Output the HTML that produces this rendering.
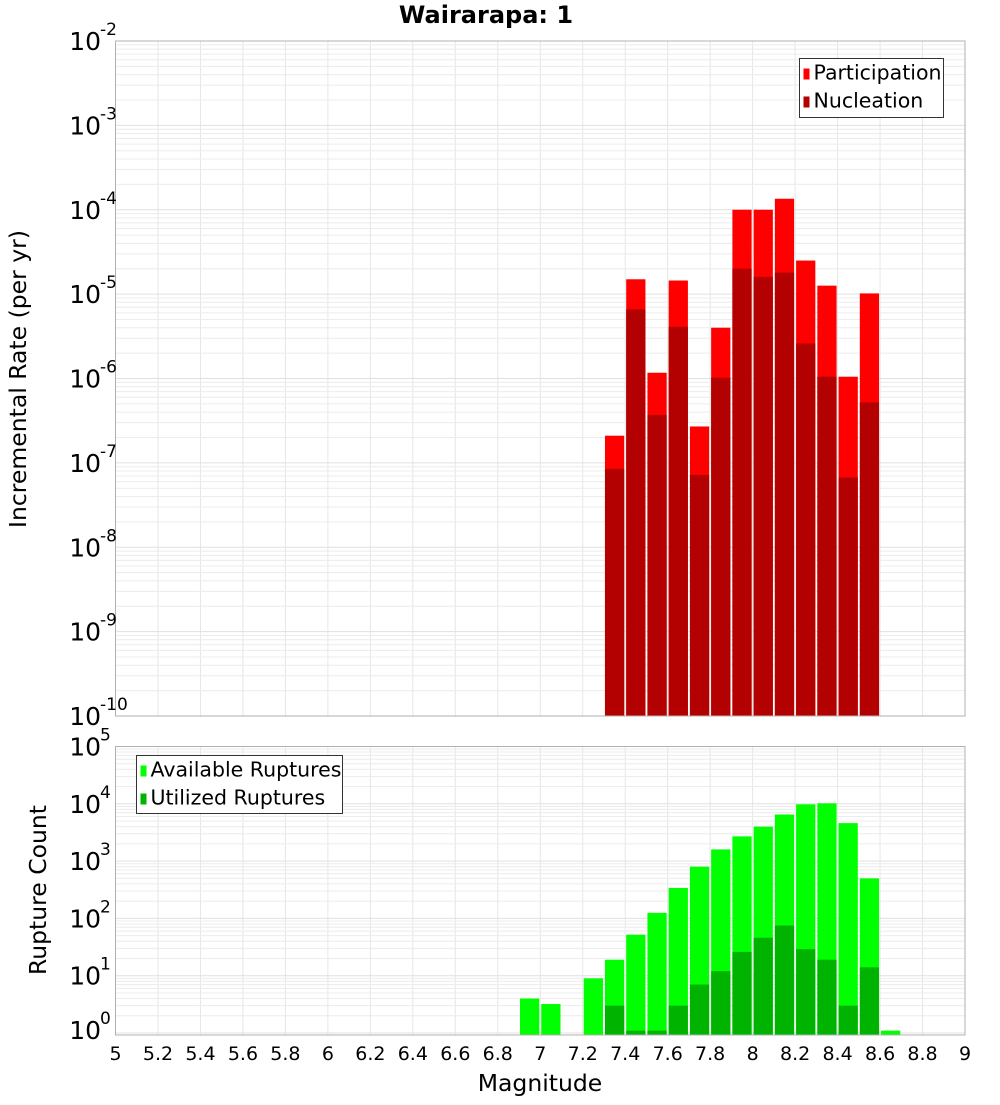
<!DOCTYPE html>
<html><head><meta charset="utf-8"><style>
body{margin:0;background:#fff;}
svg text{font-family:"DejaVu Sans","Liberation Sans",sans-serif;}
</style></head><body>
<svg id="c" width="1000" height="1100" xmlns="http://www.w3.org/2000/svg"></svg>
<script>
const mags=[7.35,7.45,7.55,7.65,7.75,7.85,7.95,8.05,8.15,8.25,8.35,8.45,8.55];
const participation=[2.1e-7,1.5e-5,1.17e-6,1.45e-5,2.7e-7,4e-6,1e-4,1e-4,1.35e-4,2.5e-5,1.26e-5,1.05e-6,1.02e-5];
const nucleation=[8.5e-8,6.6e-6,3.7e-7,4.1e-6,7.2e-8,1.02e-6,2.0e-5,1.6e-5,1.8e-5,2.6e-6,1.05e-6,6.7e-8,5.2e-7];
const countMags=[6.95,7.05,7.25,7.35,7.45,7.55,7.65,7.75,7.85,7.95,8.05,8.15,8.25,8.35,8.45,8.55,8.65];
const available=[4,3.2,9,19,52,125,340,800,1600,2700,4000,6500,9800,10200,4600,500,1.1];
const utilized=[0,0,0,3,1.1,1.1,3,7,12,26,46,75,29,19,3,14,0];
const xTicks=[5,5.2,5.4,5.6,5.8,6,6.2,6.4,6.6,6.8,7,7.2,7.4,7.6,7.8,8,8.2,8.4,8.6,8.8,9];
const topDecades=[-10,-9,-8,-7,-6,-5,-4,-3,-2];
const botDecades=[0,1,2,3,4,5];

const svg=document.getElementById('c');const NS='http://www.w3.org/2000/svg';
function el(t,a,p){const e=document.createElementNS(NS,t);for(const k in a)e.setAttribute(k,a[k]);(p||svg).appendChild(e);return e;}
const L=115.5,R=965;
const X=m=>L+(m-5)*(R-L)/4;
const T0=41,T1=716;const yT=v=>T0+(-2-Math.log10(v))*(T1-T0)/8;
const B0=746.5,B1=1035;const dB=57.3;const yB=v=>Math.min(B1,B0+(5-Math.log10(v))*dB);

function grid(top,bot,decs,yf,name){
  const g=el('g',{});
  
  
  xTicks.forEach(t=>el('line',{x1:X(t),x2:X(t),y1:top,y2:bot,stroke:'#e6e6e6','stroke-width':1},g));
  decs.forEach(d=>{for(let k=1;k<10;k++){const y=yf(k*Math.pow(10,d));if(y>=top&&y<=bot)el('line',{x1:L,x2:R,y1:y,y2:y,stroke:k==1?'#e0e0e0':'#ececec','stroke-width':1},g);}});
}
grid(T0,T1,topDecades,yT,'top-grid');
grid(B0,B1,botDecades,yB,'bottom-grid');

function bar(m,v,yf,base,color,name){
  const y=yf(v);const r=el('rect',{x:X(m-0.05)+1,y:y,width:(R-L)/40-2,height:base-y,fill:color});
  
  
}
mags.forEach((m,i)=>bar(m,participation[i],yT,T1,'#ff0000','participation-bar'));
mags.forEach((m,i)=>bar(m,nucleation[i],yT,T1,'#b30000','nucleation-bar'));
countMags.forEach((m,i)=>{if(available[i]>0)bar(m,available[i],yB,B1,'#00ff00','available-bar');});
countMags.forEach((m,i)=>{if(utilized[i]>0)bar(m,utilized[i],yB,B1,'#00b300','utilized-bar');});

el('rect',{x:L,y:T0,width:R-L,height:T1-T0,fill:'none',stroke:'#b0b0b0'});
el('rect',{x:L,y:B0,width:R-L,height:B1-B0,fill:'none',stroke:'#b0b0b0'});

function ylab(d,y,name){
  const t=el('text',{x:101,y:y+9,'font-size':25,'text-anchor':'end',fill:'#000'});t.textContent='10';
  
  
  const s=el('text',{x:100,y:y-6,'font-size':17,fill:'#000'});s.textContent=String(d);
}
topDecades.forEach(d=>ylab(d,yT(Math.pow(10,d)),'y-tick-label'));
botDecades.forEach(d=>ylab(d,yB(Math.pow(10,d))-3*(d==0),'y-tick-label'));
xTicks.forEach(t=>{const e=el('text',{x:X(t),y:1060,'font-size':19,'text-anchor':'middle'});e.textContent=String(t);
  
  });

function txt(s,a,name){const e=el('text',a);e.textContent=s;return e;}
txt('Wairarapa: 1',{x:486,y:23,'font-size':24,'font-weight':'bold','text-anchor':'middle'},'chart-title');
txt('Magnitude',{x:540,y:1091,'font-size':23.5,'text-anchor':'middle'},'x-axis-title');
txt('Incremental Rate (per yr)',{x:26,y:379,'font-size':23.5,'text-anchor':'middle',transform:'rotate(-90 26 379)'},'top-y-axis-title');
txt('Rupture Count',{x:46,y:890,'font-size':23.5,'text-anchor':'middle',transform:'rotate(-90 46 890)'},'bottom-y-axis-title');

function legend(x,y,w,h,items,name){
  const g=el('g',{});
  el('rect',{x:x,y:y,width:w,height:h,fill:'#fff',stroke:'#333','stroke-width':1},g);
  items.forEach((it,i)=>{const cy=y+15+i*28;
    el('rect',{x:x+4,y:cy-5,width:6,height:11,fill:it[1]},g);
    const t=el('text',{x:x+14,y:cy+6,'font-size':20.5},g);t.textContent=it[0];});
}
legend(799.5,58.5,144,59,[['Participation','#ff0000'],['Nucleation','#b30000']],'top-legend');
legend(136.5,755.5,206,58,[['Available Ruptures','#00ff00'],['Utilized Ruptures','#00b300']],'bottom-legend');
</script>
</body></html>
